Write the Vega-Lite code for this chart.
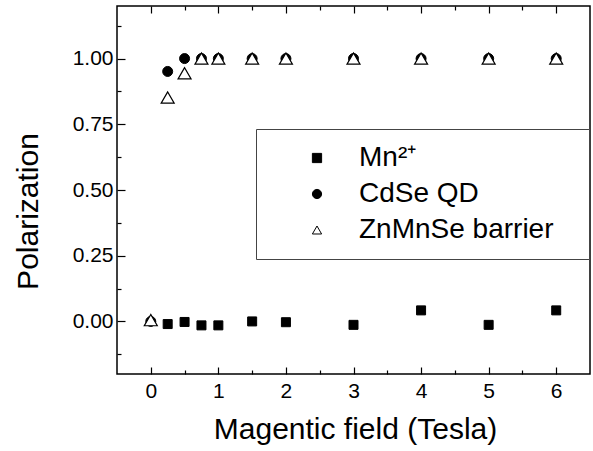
{
  "$schema": "https://vega.github.io/schema/vega-lite/v6.json",
  "autosize": {"type": "none"},
  "width": 473,
  "height": 368,
  "padding": {"left": 117, "top": 6, "right": 3, "bottom": 77},
  "background": "white",
  "config": {
    "font": "Liberation Sans",
    "view": {"stroke": "black", "strokeWidth": 1.5},
    "axis": {"domain": false, "grid": false, "tickColor": "black", "labelColor": "black", "titleColor": "black", "labelFont": "Liberation Sans", "titleFont": "Liberation Sans", "titleFontWeight": "normal"},
    "legend": {"strokeColor": "#444", "fillColor": "white", "padding": 15, "labelFontSize": 28, "labelFont": "Liberation Sans", "labelColor": "black", "symbolSize": 85, "symbolStrokeWidth": 1, "symbolStrokeColor": "black", "rowPadding": 8, "symbolOffset": 32, "labelOffset": 28, "labelLimit": 400, "titleOrient": "right", "titleFontSize": 1, "titlePadding": 20}
  },
  "data": {"values": [
    {"series": "Mn²⁺", "B": 0.25, "P": -0.01},
    {"series": "Mn²⁺", "B": 0.5, "P": -0.002},
    {"series": "Mn²⁺", "B": 0.75, "P": -0.015},
    {"series": "Mn²⁺", "B": 1.0, "P": -0.015},
    {"series": "Mn²⁺", "B": 1.5, "P": 0.0},
    {"series": "Mn²⁺", "B": 2.0, "P": -0.003},
    {"series": "Mn²⁺", "B": 3.0, "P": -0.013},
    {"series": "Mn²⁺", "B": 4.0, "P": 0.042},
    {"series": "Mn²⁺", "B": 5.0, "P": -0.013},
    {"series": "Mn²⁺", "B": 6.0, "P": 0.042},
    {"series": "CdSe QD", "B": 0.0, "P": 0.0},
    {"series": "CdSe QD", "B": 0.25, "P": 0.951},
    {"series": "CdSe QD", "B": 0.5, "P": 1.0},
    {"series": "CdSe QD", "B": 0.75, "P": 1.0},
    {"series": "CdSe QD", "B": 1.0, "P": 1.0},
    {"series": "CdSe QD", "B": 1.5, "P": 1.0},
    {"series": "CdSe QD", "B": 2.0, "P": 1.0},
    {"series": "CdSe QD", "B": 3.0, "P": 1.0},
    {"series": "CdSe QD", "B": 4.0, "P": 1.0},
    {"series": "CdSe QD", "B": 5.0, "P": 1.0},
    {"series": "CdSe QD", "B": 6.0, "P": 1.0},
    {"series": "ZnMnSe barrier", "B": 0.0, "P": 0.005},
    {"series": "ZnMnSe barrier", "B": 0.25, "P": 0.852},
    {"series": "ZnMnSe barrier", "B": 0.5, "P": 0.944},
    {"series": "ZnMnSe barrier", "B": 0.75, "P": 1.0},
    {"series": "ZnMnSe barrier", "B": 1.0, "P": 1.0},
    {"series": "ZnMnSe barrier", "B": 1.5, "P": 1.0},
    {"series": "ZnMnSe barrier", "B": 2.0, "P": 1.0},
    {"series": "ZnMnSe barrier", "B": 3.0, "P": 1.0},
    {"series": "ZnMnSe barrier", "B": 4.0, "P": 1.0},
    {"series": "ZnMnSe barrier", "B": 5.0, "P": 1.0},
    {"series": "ZnMnSe barrier", "B": 6.0, "P": 1.0}
  ]},
  "encoding": {
    "x": {"field": "B", "type": "quantitative", "scale": {"domain": [-0.5, 6.5], "nice": false, "zero": false},
      "axis": {"orient": "bottom", "values": [0, 0.5, 1, 1.5, 2, 2.5, 3, 3.5, 4, 4.5, 5, 5.5, 6],
        "labelExpr": "datum.value % 1 === 0 ? format(datum.value, 'd') : ''",
        "tickSize": {"condition": {"test": "datum.value % 1 === 0", "value": -7}, "value": -4},
        "tickWidth": 1.2, "labelFontSize": 21, "labelPadding": 13,
        "title": "Magentic field (Tesla)", "titleFontSize": 30, "titleX": 238, "titleY": 64, "titleBaseline": "alphabetic", "titleAlign": "center"}},
    "y": {"field": "P", "type": "quantitative", "scale": {"domain": [-0.2, 1.2], "nice": false, "zero": false},
      "axis": {"values": [-0.125, 0, 0.125, 0.25, 0.375, 0.5, 0.625, 0.75, 0.875, 1, 1.125],
        "labelExpr": "datum.value % 0.25 === 0 && datum.value >= 0 ? format(datum.value, '.2f') : ''",
        "tickSize": {"condition": {"test": "datum.value % 0.25 === 0", "value": -8}, "value": -4},
        "tickWidth": 1.2, "labelFontSize": 21, "labelPadding": 12,
        "title": "Polarization", "titleFontSize": 30, "titleAngle": -90, "titleX": -80, "titleY": 205, "titleBaseline": "alphabetic", "titleAlign": "center"}},
    "shape": {"field": "series", "type": "nominal",
      "scale": {"domain": ["Mn²⁺", "CdSe QD", "ZnMnSe barrier"], "range": ["square", "circle", "triangle-up"]},
      "legend": {"title": " ", "orient": "none", "legendX": 139, "legendY": 123}},
    "fill": {"field": "series", "type": "nominal",
      "scale": {"domain": ["Mn²⁺", "CdSe QD", "ZnMnSe barrier"], "range": ["black", "black", "white"]},
      "legend": {"title": " ", "orient": "none", "legendX": 139, "legendY": 123}},
    "stroke": {"field": "series", "type": "nominal",
      "scale": {"domain": ["Mn²⁺", "CdSe QD", "ZnMnSe barrier"], "range": ["black", "black", "black"]},
      "legend": {"title": " ", "orient": "none", "legendX": 139, "legendY": 123}}
  },
  "layer": [
    {
      "transform": [{"filter": "datum.series === 'Mn²⁺'"}],
      "mark": {"type": "point", "filled": true, "strokeWidth": 1, "opacity": 1, "size": 81}
    },
    {
      "transform": [{"filter": "datum.series === 'CdSe QD'"}],
      "mark": {"type": "point", "filled": true, "strokeWidth": 1, "opacity": 1, "size": 100},
      "encoding": {"x": {"field": "B", "type": "quantitative", "axis": null}}
    },
    {
      "transform": [{"filter": "datum.series === 'ZnMnSe barrier'"}],
      "mark": {"type": "point", "filled": true, "strokeWidth": 1.2, "opacity": 1, "size": 169},
      "encoding": {"x": {"field": "B", "type": "quantitative", "axis": null}}
    },
    {
      "mark": {"type": "point", "opacity": 0},
      "encoding": {
        "shape": null, "fill": null, "stroke": null,
        "x": {"field": "B", "type": "quantitative",
          "axis": {"orient": "top", "values": [0, 0.5, 1, 1.5, 2, 2.5, 3, 3.5, 4, 4.5, 5, 5.5, 6], "labels": false, "title": null,
            "tickSize": {"condition": {"test": "datum.value % 1 === 0", "value": -7}, "value": -4}, "tickWidth": 1.2}}
      }
    }
  ]
}
